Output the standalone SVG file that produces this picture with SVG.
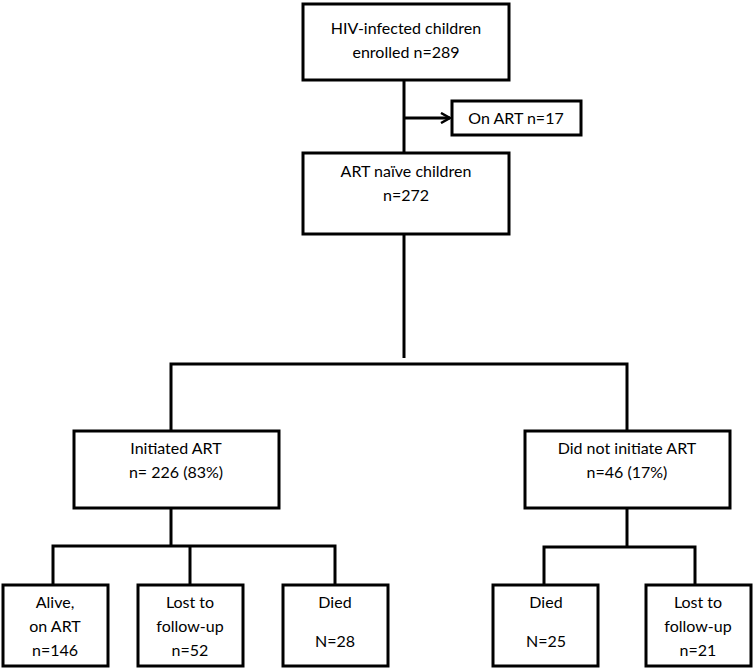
<svg xmlns="http://www.w3.org/2000/svg" width="755" height="671" viewBox="0 0 755 671">
<style>
rect{fill:#fff;stroke:#000;stroke-width:3}
.c{fill:none;stroke:#000;stroke-width:3}
text{font-family:Lato,"Liberation Sans",sans-serif;font-size:16px;fill:#000;text-anchor:middle}
</style>
<defs>
<marker id="ah" markerWidth="12" markerHeight="12" refX="10" refY="6" orient="auto" markerUnits="userSpaceOnUse">
<path d="M1,1 L10,6 L1,11" fill="none" stroke="#000" stroke-width="2.5"/>
</marker>
</defs>
<g id="connectors">
<path class="c" d="M404,80 V153"/>
<path class="c" d="M404,118 H450" marker-end="url(#ah)"/>
<path class="c" d="M404,234 V358"/>
<path class="c" d="M171,431 V364 H627 V431"/>
<path class="c" d="M171,508 V546"/>
<path class="c" d="M53,585 V546 H335 V585"/>
<path class="c" d="M190,546 V585"/>
<path class="c" d="M627,508 V547"/>
<path class="c" d="M544,585 V547 H695 V585"/>
</g>
<g id="n1"><rect x="303" y="4" width="206" height="76"/><text x="406" y="34">HIV-infected children</text><text x="406" y="58">enrolled n=289</text></g>
<g id="n2"><rect x="452" y="101" width="129" height="34"/><text x="516" y="124">On ART n=17</text></g>
<g id="n3"><rect x="303" y="153" width="206" height="81"/><text x="406" y="177">ART naïve children</text><text x="406" y="201">n=272</text></g>
<g id="n4"><rect x="74" y="431" width="205" height="77"/><text x="176" y="454">Initiated ART</text><text x="176" y="478">n= 226 (83%)</text></g>
<g id="n5"><rect x="525" y="431" width="205" height="77"/><text x="627" y="454">Did not initiate ART</text><text x="627" y="478">n=46 (17%)</text></g>
<g id="n6"><rect x="3" y="585" width="105" height="81"/><text x="55" y="608">Alive,</text><text x="55" y="632">on ART</text><text x="55" y="656">n=146</text></g>
<g id="n7"><rect x="138" y="585" width="105" height="81"/><text x="190" y="608">Lost to</text><text x="190" y="632">follow-up</text><text x="190" y="656">n=52</text></g>
<g id="n8"><rect x="283" y="585" width="105" height="81"/><text x="335" y="608">Died</text><text x="335" y="647">N=28</text></g>
<g id="n9"><rect x="493" y="585" width="105" height="81"/><text x="546" y="608">Died</text><text x="546" y="647">N=25</text></g>
<g id="n10"><rect x="646" y="585" width="105" height="81"/><text x="698" y="608">Lost to</text><text x="698" y="632">follow-up</text><text x="698" y="656">n=21</text></g>
</svg>
